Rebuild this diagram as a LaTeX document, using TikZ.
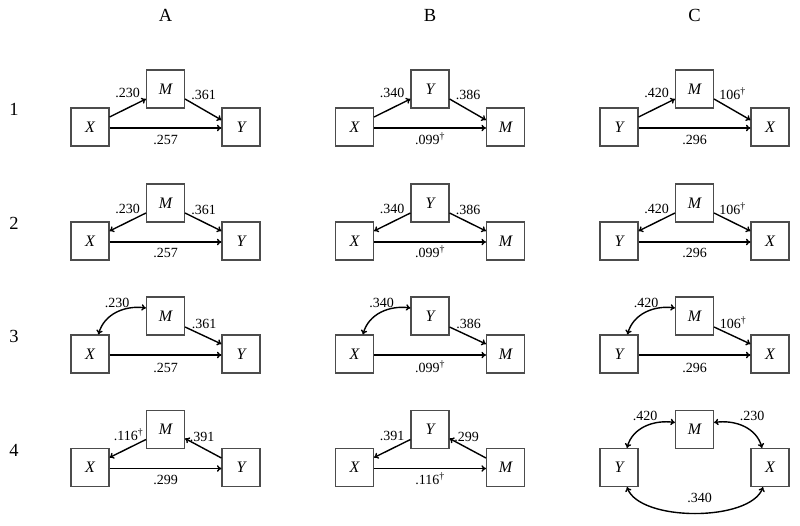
\documentclass[tikz,border=0pt]{standalone}
\usepackage{fontspec}
\setmainfont{Liberation Serif}
\usetikzlibrary{arrows.meta}
\tikzset{
  box/.style={draw=black!70, line width=1.1pt, minimum size=38pt, inner sep=0pt,
    font=\fontsize{16}{16}\selectfont\itshape},
  lab/.style={inner sep=0pt, anchor=base, yshift=-4.8pt, font=\fontsize{14}{14}\selectfont},
  hdr/.style={inner sep=0pt, anchor=base, font=\fontsize{18.5}{18.5}\selectfont},
  tip/.tip={To[length=4.5pt,width=6.5pt]},
  arr/.style={line width=1.4pt, -tip},
  darr/.style={line width=1.4pt, tip-tip},
}
\newcommand{\dg}{\textsuperscript{\textdagger}}
% prefix, left x, left y (px from top), left text, mid text, right text
\newcommand{\trio}[6]{%
  \node[box] (#1l) at (#2,-#3) {#4};
  \node[box] (#1m) at (#2+75.5,-#3+38) {#5};
  \node[box] (#1r) at (#2+151,-#3) {#6};
}
% row 1: l->m, m->r, l->r
\newcommand{\rowA}[4]{%
  \draw[arr] ([yshift=10]#1l.east) -- ([yshift=-10]#1m.west);
  \draw[arr] ([yshift=-10]#1m.east) -- ([yshift=7]#1r.west);
  \draw[arr] ([yshift=-1]#1l.east) -- ([yshift=-1]#1r.west);
  \node[lab] (#1a) at ([shift={(-38,-4)}]#1m.center) {#2};
  \node[lab] (#1b) at ([shift={(38,-6)}]#1m.center) {#3};
  \node[lab] (#1c) at ([shift={(0,-51)}]#1m.center) {#4};
}
% row 2: m->l, m->r, l->r
\newcommand{\rowB}[4]{%
  \draw[arr] ([yshift=-10]#1m.west) -- ([yshift=10]#1l.east);
  \draw[arr] ([yshift=-10]#1m.east) -- ([yshift=10]#1r.west);
  \draw[arr] ([yshift=-1]#1l.east) -- ([yshift=-1]#1r.west);
  \node[lab] (#1a) at ([shift={(-38,-5.5)}]#1m.center) {#2};
  \node[lab] (#1b) at ([shift={(38,-6.5)}]#1m.center) {#3};
  \node[lab] (#1c) at ([shift={(0,-50)}]#1m.center) {#4};
}
% row 3: l<->m, m->r, l->r
\newcommand{\rowC}[4]{%
  \draw[darr] ([xshift=8.5]#1l.north) to[out=75,in=172] ([yshift=8]#1m.west);
  \draw[arr] ([yshift=-11]#1m.east) -- ([yshift=10]#1r.west);
  \draw[arr] ([yshift=-1]#1l.east) -- ([yshift=-1]#1r.west);
  \node[lab] (#1a) at ([shift={(-48.5,13)}]#1m.center) {#2};
  \node[lab] (#1b) at ([shift={(38.5,-8)}]#1m.center) {#3};
  \node[lab] (#1c) at ([shift={(0,-52)}]#1m.center) {#4};
}
% row 4: m->l, r->m, l->r
\newcommand{\rowD}[5]{%
  \draw[arr] ([yshift=-10]#1m.west) -- ([yshift=10]#1l.east);
  \draw[arr] ([yshift=9.5]#1r.west) -- ([yshift=-9]#1m.east);
  \draw[arr] ([yshift=-1]#1l.east) -- ([yshift=-1]#1r.west);
  \node[lab] (#1a) at ([shift={(#5,-6)}]#1m.center) {#2};
  \node[lab] (#1b) at ([shift={(36.5,-7)}]#1m.center) {#3};
  \node[lab] (#1c) at ([shift={(0,-50)}]#1m.center) {#4};
}
\begin{document}
\begin{tikzpicture}[x=1pt,y=1pt]
\useasboundingbox (0,0) rectangle (800,-525);
% headers
\node[hdr] (hA) at (165.5,-21.7) {A};
\node[hdr] (hB) at (430,-21.7) {B};
\node[hdr] (hC) at (694.5,-21.7) {C};
\node[hdr] (r1) at (14,-115) {1};
\node[hdr] (r2) at (14,-229) {2};
\node[hdr] (r3) at (14,-342.5) {3};
\node[hdr] (r4) at (14,-456) {4};
% row 1
\trio{A1}{90}{127}{X}{M}{Y}
\trio{B1}{354.5}{127}{X}{Y}{M}
\trio{C1}{619}{127}{Y}{M}{X}
\rowA{A1}{.230}{.361}{.257}
\rowA{B1}{.340}{.386}{.099\dg}
\rowA{C1}{.420}{106\dg}{.296}
% row 2
\trio{A2}{90}{241}{X}{M}{Y}
\trio{B2}{354.5}{241}{X}{Y}{M}
\trio{C2}{619}{241}{Y}{M}{X}
\rowB{A2}{.230}{.361}{.257}
\rowB{B2}{.340}{.386}{.099\dg}
\rowB{C2}{.420}{106\dg}{.296}
% row 3
\trio{A3}{90}{354}{X}{M}{Y}
\trio{B3}{354.5}{354}{X}{Y}{M}
\trio{C3}{619}{354}{Y}{M}{X}
\rowC{A3}{.230}{.361}{.257}
\rowC{B3}{.340}{.386}{.099\dg}
\rowC{C3}{.420}{106\dg}{.296}
% row 4
\trio{A4}{90}{467.5}{X}{M}{Y}
\trio{B4}{354.5}{467.5}{X}{Y}{M}
\trio{C4}{619}{467.5}{Y}{M}{X}
\rowD{A4}{.116\dg}{.391}{.299}{-37}
\rowD{B4}{.391}{.299}{.116\dg}{-38}
\draw[darr] ([xshift=8]C4l.north) to[out=75,in=172] ([yshift=7]C4m.west);
\draw[darr] ([yshift=7]C4m.east) to[out=8,in=105] ([xshift=-8]C4r.north);
\draw[darr] ([xshift=8]C4l.south) to[out=-70,in=-110,looseness=0.7] ([xshift=-7]C4r.south);
\node[lab] (C4a) at ([shift={(-49.5,14)}]C4m.center) {.420};
\node[lab] (C4b) at ([shift={(57.5,14)}]C4m.center) {.230};
\node[lab] (C4c) at ([shift={(5,-68)}]C4m.center) {.340};
\end{tikzpicture}
\end{document}
